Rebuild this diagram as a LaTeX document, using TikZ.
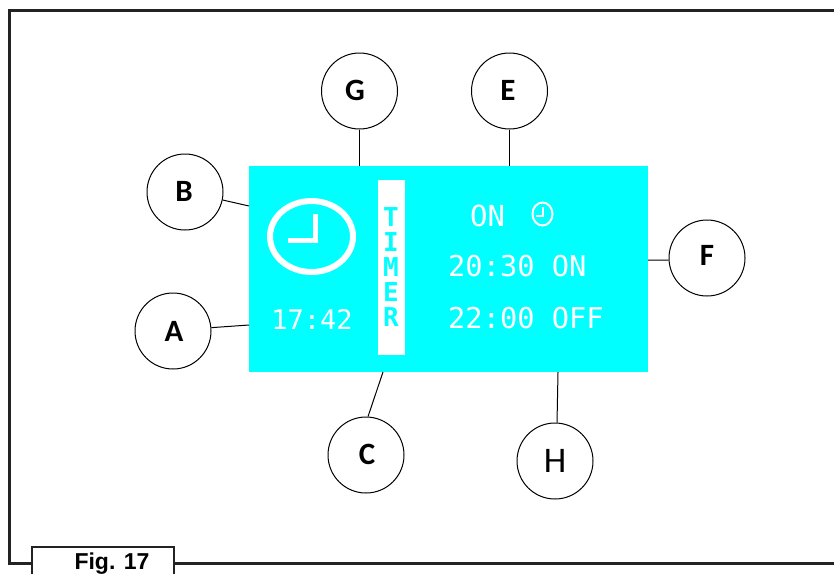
\documentclass[tikz,border=0pt]{standalone}
\usepackage{fontspec}
\setmainfont{Liberation Sans}
\newfontfamily\labelfont{Carlito}
\newfontfamily\lcdfont{DejaVu Sans Mono}
\definecolor{lcd}{RGB}{0,255,255}
\definecolor{inkline}{RGB}{35,35,35}
\tikzset{
  x=1pt,y=-1pt,
  callout/.style={circle,draw=black,line width=1pt,fill=white,minimum size=76pt,inner sep=0pt},
  calloutlabel/.style={inner sep=0pt,font=\labelfont\bfseries\fontsize{31}{31}\selectfont},
  lead/.style={draw=black,line width=1pt},
  frameline/.style={draw=inkline,line width=3pt},
  lcdtext/.style={text=white,font=\lcdfont\fontsize{#1}{#1}\selectfont,inner sep=0pt,anchor=center},
  lcdtext/.default=27
}
\begin{document}
\begin{tikzpicture}
\useasboundingbox (0,0) rectangle (834,573);
\begin{scope}
\clip (0,0) rectangle (834,573);
\coordinate (frameBL) at (9,563);
\coordinate (frameTL) at (9,10);
\coordinate (frameTR) at (840,10);
\coordinate (frameBR) at (840,563);
\draw[frameline] (frameBR) -- (174,563) (32,563) -- (frameBL) -- (frameTL) -- (frameTR);
\node[draw=inkline,line width=2.4pt,fill=white,minimum width=142pt,minimum height=40pt,inner sep=0pt] (figbox) at (103,567) {};
\node[font=\bfseries\fontsize{23}{23}\selectfont,inner sep=0pt,anchor=base] (figlabel) at (112,569.5) {Fig. 17};
\end{scope}
\node[fill=lcd,minimum width=399pt,minimum height=206pt,inner sep=0pt] (panel) at (448.5,269) {};
\node[fill=white,minimum width=27pt,minimum height=175pt,inner sep=0pt] (timerbar) at (391.5,267.5) {};
\node[callout] (G) at (359.5,91) {};
\node[callout] (E) at (509.5,91) {};
\node[callout] (B) at (185,192) {};
\node[callout] (A) at (173,331) {};
\node[callout] (F) at (707,258) {};
\node[callout] (C) at (366,455) {};
\node[callout] (H) at (555,461) {};
\node[calloutlabel] (Gt) at (355,90) {G};
\node[calloutlabel] (Et) at (508,90) {E};
\node[calloutlabel] (Bt) at (184,191) {B};
\node[calloutlabel] (At) at (174,331) {A};
\node[calloutlabel] (Ft) at (707,255) {F};
\node[calloutlabel] (Ct) at (367,454) {C};
\node[calloutlabel,font=\labelfont\fontsize{36}{36}\selectfont] (Ht) at (555,461) {H};
\coordinate (pB) at (249,206);
\coordinate (pA) at (249,325);
\coordinate (pC) at (383,372);
\coordinate (pH) at (558,372);
\coordinate (pF) at (648,260);
\draw[lead] (G.south) -- (G.south |- panel.north);
\draw[lead] (E.south) -- (E.south |- panel.north);
\draw[lead] (B.-12) -- (pB);
\draw[lead] (A.5) -- (pA);
\draw[lead] (F.183) -- (pF);
\draw[lead] (C.87) -- (pC);
\draw[lead] (H.87) -- (pH);
\draw[white,line width=6pt] (311.5,236.5) ellipse [x radius=41.5,y radius=35.5];
\draw[white,line width=5pt] (315.5,214) -- (315.5,240.5) -- (288,240.5);
\node[lcdtext=27] (t1742) at (312,319) {17:42};
\node[text=lcd,font=\lcdfont\bfseries\fontsize{26}{25}\selectfont,align=center,inner sep=0pt] (timertext) at (391,267.5) {T\\I\\M\\E\\R};
\node[lcdtext=29,anchor=base west] (tOn) at (470,226) {ON};
\draw[white,line width=2pt] (542.5,214) ellipse [x radius=10,y radius=11.5];
\draw[white,line width=1.6pt] (543,207) -- (543,216) -- (536,216);
\node[lcdtext=28.7,anchor=base west] (t2030) at (448,276.5) {20:30 ON};
\node[lcdtext=28.7,anchor=base west] (t2200) at (448,328) {22:00 OFF};
\end{tikzpicture}
\end{document}
